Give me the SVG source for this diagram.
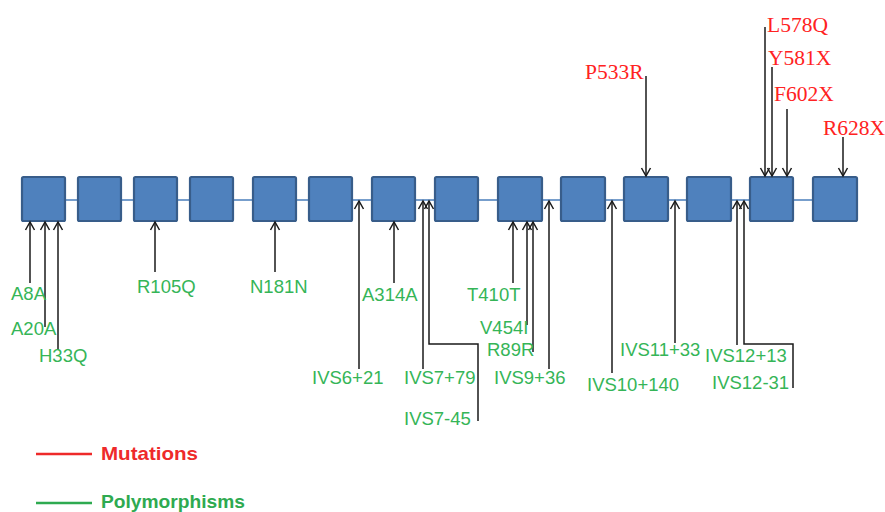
<svg xmlns="http://www.w3.org/2000/svg" width="885" height="512" viewBox="0 0 885 512">
<style>
.exon{fill:#4f81bd;stroke:#385d8a;stroke-width:2.2}
.ar{fill:none;stroke:#1a1a1a;stroke-width:1.5;marker-end:url(#ah)}
.g{font-family:"Liberation Sans",Arial,sans-serif;font-size:18.5px;fill:#35b557}
.r{font-family:"Liberation Serif","Times New Roman",serif;font-size:21.5px;fill:#ff2222}
.lg{font-family:"Liberation Sans",Arial,sans-serif;font-size:19px;font-weight:bold}
</style>
<defs>
<marker id="ah" markerUnits="userSpaceOnUse" markerWidth="12" markerHeight="12" viewBox="0 0 12 12" refX="10" refY="6" orient="auto">
<path d="M2,1.5 L10,6 L2,10.5" fill="none" stroke="#1a1a1a" stroke-width="1.5"/>
</marker>
</defs>
<rect width="885" height="512" fill="#ffffff"/>
<g id="backbone"><line x1="22" y1="200" x2="857" y2="200" stroke="#4a7ebb" stroke-width="1.4"/></g>
<g id="exon1"><rect class="exon" x="22" y="177" width="43" height="44" rx="1.5"/></g>
<g id="exon2"><rect class="exon" x="78" y="177" width="43" height="44" rx="1.5"/></g>
<g id="exon3"><rect class="exon" x="134" y="177" width="43" height="44" rx="1.5"/></g>
<g id="exon4"><rect class="exon" x="190" y="177" width="43" height="44" rx="1.5"/></g>
<g id="exon5"><rect class="exon" x="253" y="177" width="43" height="44" rx="1.5"/></g>
<g id="exon6"><rect class="exon" x="309" y="177" width="43" height="44" rx="1.5"/></g>
<g id="exon7"><rect class="exon" x="372" y="177" width="43" height="44" rx="1.5"/></g>
<g id="exon8"><rect class="exon" x="435" y="177" width="43" height="44" rx="1.5"/></g>
<g id="exon9"><rect class="exon" x="498" y="177" width="44" height="44" rx="1.5"/></g>
<g id="exon10"><rect class="exon" x="561" y="177" width="44" height="44" rx="1.5"/></g>
<g id="exon11"><rect class="exon" x="624" y="177" width="44" height="44" rx="1.5"/></g>
<g id="exon12"><rect class="exon" x="687" y="177" width="44" height="44" rx="1.5"/></g>
<g id="exon13"><rect class="exon" x="750" y="177" width="43" height="44" rx="1.5"/></g>
<g id="exon14"><rect class="exon" x="813" y="177" width="44" height="44" rx="1.5"/></g>
<g id="connectors">
<line class="ar" x1="30" y1="283" x2="30" y2="222"/>
<line class="ar" x1="45" y1="327" x2="45" y2="222"/>
<line class="ar" x1="58" y1="350" x2="58" y2="222"/>
<line class="ar" x1="155" y1="272" x2="155" y2="222"/>
<line class="ar" x1="275" y1="272" x2="275" y2="222"/>
<line class="ar" x1="359" y1="369" x2="359" y2="201"/>
<line class="ar" x1="394" y1="283" x2="394" y2="222"/>
<line class="ar" x1="423" y1="369" x2="423" y2="201"/>
<polyline class="ar" points="478,421 478,344 429,344 429,201"/>
<line class="ar" x1="513" y1="283" x2="513" y2="222"/>
<line class="ar" x1="527" y1="325" x2="527" y2="222"/>
<line class="ar" x1="533" y1="352" x2="533" y2="222"/>
<line class="ar" x1="549" y1="369" x2="549" y2="201"/>
<line class="ar" x1="612" y1="373" x2="612" y2="201"/>
<line class="ar" x1="675" y1="343" x2="675" y2="201"/>
<line class="ar" x1="737" y1="345" x2="737" y2="201"/>
<polyline class="ar" points="793,388 793,344 744,344 744,201"/>
<line class="ar" x1="646" y1="76" x2="646" y2="176"/>
<line class="ar" x1="765" y1="27" x2="765" y2="176"/>
<line class="ar" x1="772" y1="67" x2="772" y2="176"/>
<line class="ar" x1="787" y1="109" x2="787" y2="176"/>
<line class="ar" x1="843" y1="137" x2="843" y2="176"/>
</g>
<g id="labels-polymorphisms">
<text class="g" x="11" y="300">A8A</text>
<text class="g" x="11" y="335">A20A</text>
<text class="g" x="39" y="362">H33Q</text>
<text class="g" x="137" y="293">R105Q</text>
<text class="g" x="250" y="293">N181N</text>
<text class="g" x="312" y="384">IVS6+21</text>
<text class="g" x="362" y="301">A314A</text>
<text class="g" x="404" y="384">IVS7+79</text>
<text class="g" x="404" y="425">IVS7-45</text>
<text class="g" x="467" y="301">T410T</text>
<text class="g" x="480" y="334">V454I</text>
<text class="g" x="487" y="356">R89R</text>
<text class="g" x="494" y="384">IVS9+36</text>
<text class="g" x="587" y="391">IVS10+140</text>
<text class="g" x="620" y="356">IVS11+33</text>
<text class="g" x="705" y="362">IVS12+13</text>
<text class="g" x="712" y="389">IVS12-31</text>
</g>
<g id="labels-mutations">
<text class="r" x="585" y="79">P533R</text>
<text class="r" x="767" y="32">L578Q</text>
<text class="r" x="768" y="65">Y581X</text>
<text class="r" x="774" y="101">F602X</text>
<text class="r" x="823" y="135">R628X</text>
</g>
<g id="legend">
<line x1="36" y1="454" x2="92" y2="454" stroke="#ee2a2a" stroke-width="2.5"/>
<text class="lg" x="101" y="460" fill="#ee2a2a" textLength="97" lengthAdjust="spacingAndGlyphs">Mutations</text>
<line x1="36" y1="503" x2="92" y2="503" stroke="#2eaa50" stroke-width="2.5"/>
<text class="lg" x="101" y="508" fill="#2eaa50" textLength="144" lengthAdjust="spacingAndGlyphs">Polymorphisms</text>
</g>
</svg>
